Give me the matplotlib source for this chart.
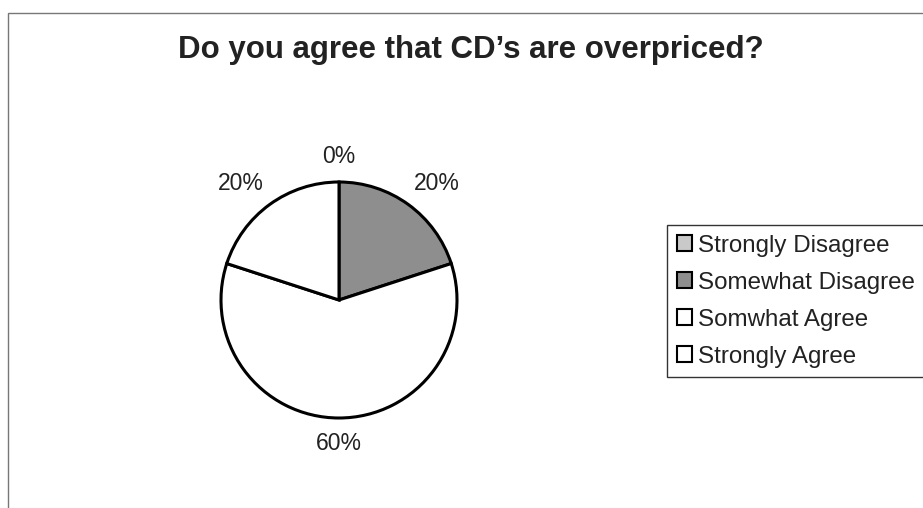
import numpy as np
import matplotlib.pyplot as plt
from matplotlib.patches import Rectangle

plt.rcParams['font.family'] = ['Liberation Sans', 'DejaVu Sans']

# Survey answers
categories = ['Strongly Disagree', 'Somewhat Disagree', 'Somwhat Agree', 'Strongly Agree']
shares = [0, 20, 60, 20]
colors = ['#c9c9c9', '#8e8e8e', '#ffffff', '#ffffff']

W, H = 923, 508
fig = plt.figure(figsize=(W / 100, H / 100), dpi=100)

# chart area border (top and left visible, rest cut off)
fig.patches.append(Rectangle((8 / W, -0.1), 1.2, 1 - 13 / H + 0.1, transform=fig.transFigure,
                             fill=False, edgecolor='#777777', linewidth=1.0))

fig.text(471 / W, 1 - 50 / H, "Do you agree that CD\u2019s are overpriced?",
         ha='center', va='center', fontsize=22.5, fontweight='bold', color='#222222')

# pie centred at (339, 300) px with radius ~118 px
r = 118
ax = fig.add_axes([(339 - r) / W, (H - 300 - r) / H, 2 * r / W, 2 * r / H])
wedges, texts, autotexts = ax.pie(shares, colors=colors, startangle=90, counterclock=False,
                                  autopct='%.0f%%', pctdistance=1.25,
                                  wedgeprops=dict(edgecolor='black', linewidth=2.2))
# spread labels a bit sideways, like Excel does
for w, t in zip(wedges, autotexts):
    a = np.deg2rad((w.theta1 + w.theta2) / 2)
    t.set_position((1.41 * np.cos(a), 1.22 * np.sin(a)))
    t.set_fontsize(16.5)
    t.set_color('#222222')
ax.set_xlim(-1, 1)
ax.set_ylim(-1, 1)
ax.axis('off')

leg = fig.legend(wedges, categories, loc='upper left', bbox_to_anchor=(667 / W, 1 - 225 / H),
                 fontsize=17.4, frameon=True, fancybox=False, edgecolor='black',
                 handlelength=0.65, handleheight=0.65, handletextpad=0.25,
                 labelspacing=0.62, borderpad=0.4, borderaxespad=0)
leg.get_frame().set_linewidth(1.0)
for h in leg.legend_handles:
    h.set_linewidth(1.5)
for t in leg.get_texts():
    t.set_color('#222222')

fig.savefig('out.png', dpi=100)
